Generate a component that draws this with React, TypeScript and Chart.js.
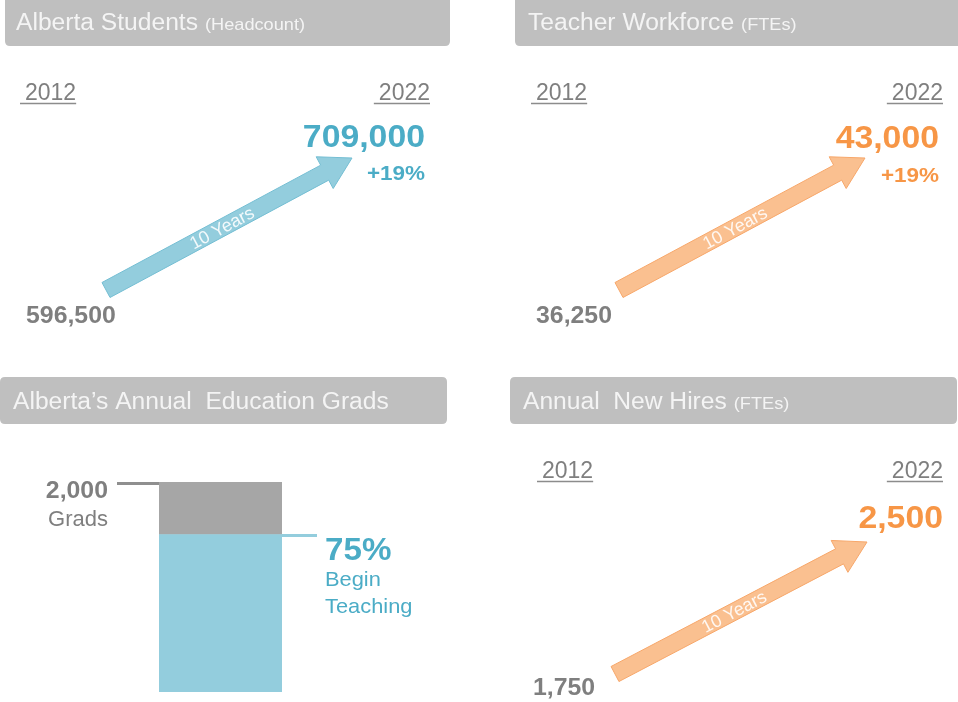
import React, { useEffect, useRef } from "react";
import { Chart, registerables } from "chart.js";

Chart.register(...registerables);

// ---------------- DATA ----------------
const years = [2012, 2022];
const studentValues = [596500, 709000];
const teacherValues = [36250, 43000];
const hireValues = [1750, 2500];
const studentGrowthPct = 19;
const teacherGrowthPct = 19;
const gradsCategories = ["Education Grads"];
const gradsTotal = 2000;
const gradsTeaching = [1500];
const gradsOther = [500];
const beginTeachingPct = 75;
const arrowLabel = "10 Years";
const panelTitles = ["Alberta Students", "Teacher Workforce", "Alberta\u2019s Annual  Education Grads", "Annual  New Hires"];
const panelSubtitles = ["(Headcount)", "(FTEs)", "", "(FTEs)"];
const gradsLabel = "Grads";
const teachingLabelLines = ["Begin", "Teaching"];

// ---------------- STYLE ----------------
const W = 958;
const H = 702;
const FONT = '"Liberation Sans", Arial, Helvetica, sans-serif';
const HEADER_BG = "#bfbfbf";
const HEADER_TEXT = "#f4f4f4";
const GRAY_TEXT = "#7f7f7f";
const TEAL = "#4bacc6";
const TEAL_FILL = "#93cddd";
const TEAL_EDGE = "#74bed3";
const ORANGE = "#f79646";
const ORANGE_FILL = "#fac090";
const ORANGE_EDGE = "#f7a76a";
const BAR_GRAY = "#a6a6a6";

type TextOpt = { size: number; bold?: boolean; color: string; align?: CanvasTextAlign; sx?: number; baseline?: CanvasTextBaseline };

function drawText(ctx: CanvasRenderingContext2D, s: string, x: number, y: number, o: TextOpt) {
  const sx = o.sx ?? 1;
  ctx.save();
  ctx.font = `${o.bold ? "bold " : ""}${o.size}px ${FONT}`;
  ctx.fillStyle = o.color;
  ctx.textAlign = o.align || "left";
  ctx.textBaseline = o.baseline || "alphabetic";
  ctx.translate(x, y);
  ctx.scale(sx, 1);
  ctx.fillText(s, 0, 0);
  const w = ctx.measureText(s).width * sx;
  ctx.restore();
  return w;
}

function roundRectPath(ctx: CanvasRenderingContext2D, x: number, y: number, w: number, h: number, r: number) {
  ctx.beginPath();
  ctx.moveTo(x + r, y);
  ctx.lineTo(x + w - r, y);
  ctx.quadraticCurveTo(x + w, y, x + w, y + r);
  ctx.lineTo(x + w, y + h - r);
  ctx.quadraticCurveTo(x + w, y + h, x + w - r, y + h);
  ctx.lineTo(x + r, y + h);
  ctx.quadraticCurveTo(x, y + h, x, y + h - r);
  ctx.lineTo(x, y + r);
  ctx.quadraticCurveTo(x, y, x + r, y);
  ctx.closePath();
}

type HeaderLayout = { x: number; y: number; w: number; h: number; tx: number; ty: number };

function drawHeader(ctx: CanvasRenderingContext2D, hl: HeaderLayout, title: string, sub: string) {
  ctx.save();
  ctx.fillStyle = HEADER_BG;
  roundRectPath(ctx, hl.x, hl.y, hl.w, hl.h, 5);
  ctx.fill();
  ctx.restore();
  const w = drawText(ctx, title, hl.tx, hl.ty, { size: 23, color: HEADER_TEXT, sx: 1.07 });
  if (sub) drawText(ctx, sub, hl.tx + w + 7, hl.ty, { size: 17, color: HEADER_TEXT, sx: 1.07 });
}

function drawYear(ctx: CanvasRenderingContext2D, s: string, x: number, y: number, align: "left" | "right") {
  const w = drawText(ctx, s, x, y, { size: 23, color: GRAY_TEXT, align });
  const x0 = align === "left" ? x - 5 : x - w - 5;
  const x1 = align === "left" ? x + w : x;
  ctx.save();
  ctx.strokeStyle = "#8c8c8c";
  ctx.lineWidth = 1.5;
  ctx.beginPath();
  ctx.moveTo(x0, y + 3.5);
  ctx.lineTo(x1, y + 3.5);
  ctx.stroke();
  ctx.restore();
}

const fmt = (n: number) => n.toLocaleString("en-US");

type ArrowPanel = {
  values: number[];
  pct: number | null;
  color: string;
  fill: string;
  edge: string;
  title: string;
  sub: string;
  header: HeaderLayout;
  tail: [number, number];
  tip: [number, number];
  year1: [number, number];
  year2: [number, number];
  endVal: [number, number];
  growth: [number, number];
  startVal: [number, number];
};

const arrowPanels: ArrowPanel[] = [
  {
    values: studentValues, pct: studentGrowthPct, color: TEAL, fill: TEAL_FILL, edge: TEAL_EDGE,
    title: panelTitles[0], sub: panelSubtitles[0],
    header: { x: 5, y: -6, w: 445, h: 52, tx: 16, ty: 30 },
    tail: [106, 290], tip: [352, 158],
    year1: [25, 100], year2: [430, 100],
    endVal: [425, 147], growth: [425, 180], startVal: [26, 323],
  },
  {
    values: teacherValues, pct: teacherGrowthPct, color: ORANGE, fill: ORANGE_FILL, edge: ORANGE_EDGE,
    title: panelTitles[1], sub: panelSubtitles[1],
    header: { x: 515, y: -6, w: 452, h: 52, tx: 528, ty: 30 },
    tail: [619, 290], tip: [865, 158],
    year1: [536, 100], year2: [943, 100],
    endVal: [939, 148], growth: [939, 182], startVal: [536, 323],
  },
  {
    values: hireValues, pct: null, color: ORANGE, fill: ORANGE_FILL, edge: ORANGE_EDGE,
    title: panelTitles[3], sub: panelSubtitles[3],
    header: { x: 510, y: 377, w: 447, h: 47, tx: 523, ty: 409 },
    tail: [615, 674], tip: [867, 542],
    year1: [542, 478], year2: [943, 478],
    endVal: [943, 528], growth: [943, 560], startVal: [533, 695],
  },
];

function makeArrowChart(canvas: HTMLCanvasElement, p: ArrowPanel) {
  const plugin = {
    id: "arrowPanel",
    afterDatasetsDraw(chart: any) {
      const ctx: CanvasRenderingContext2D = chart.ctx;
      const meta = chart.getDatasetMeta(0);
      const a = meta.data[0];
      const b = meta.data[1];
      const dx = b.x - a.x;
      const dy = b.y - a.y;
      const len = Math.hypot(dx, dy);
      const ux = dx / len, uy = dy / len;
      const nx = -uy, ny = ux;
      const shaft = 17, head = 36, headLen = 31;
      const bx = b.x - ux * headLen, by = b.y - uy * headLen;
      ctx.save();
      ctx.beginPath();
      ctx.moveTo(a.x + nx * shaft / 2, a.y + ny * shaft / 2);
      ctx.lineTo(bx + nx * shaft / 2, by + ny * shaft / 2);
      ctx.lineTo(bx + nx * head / 2, by + ny * head / 2);
      ctx.lineTo(b.x, b.y);
      ctx.lineTo(bx - nx * head / 2, by - ny * head / 2);
      ctx.lineTo(bx - nx * shaft / 2, by - ny * shaft / 2);
      ctx.lineTo(a.x - nx * shaft / 2, a.y - ny * shaft / 2);
      ctx.closePath();
      ctx.fillStyle = p.fill;
      ctx.fill();
      ctx.strokeStyle = p.edge;
      ctx.lineWidth = 1;
      ctx.stroke();
      // label along the shaft
      const s = (len - headLen) * 0.53;
      const cx = a.x + ux * s, cy = a.y + uy * s;
      ctx.translate(cx, cy);
      ctx.rotate(Math.atan2(dy, dx));
      ctx.font = `18px ${FONT}`;
      ctx.fillStyle = "rgba(255,255,255,0.88)";
      ctx.textAlign = "center";
      ctx.textBaseline = "middle";
      ctx.fillText(arrowLabel, 0, 1);
      ctx.restore();

      drawHeader(ctx, p.header, p.title, p.sub);
      drawYear(ctx, String(years[0]), p.year1[0], p.year1[1], "left");
      drawYear(ctx, String(years[1]), p.year2[0], p.year2[1], "right");
      drawText(ctx, fmt(p.values[1]), p.endVal[0], p.endVal[1], { size: 31, bold: true, color: p.color, align: "right", sx: 1.09 });
      if (p.pct !== null) drawText(ctx, `+${p.pct}%`, p.growth[0], p.growth[1], { size: 21, bold: true, color: p.color, align: "right", sx: 1.07 });
      drawText(ctx, fmt(p.values[0]), p.startVal[0], p.startVal[1], { size: 23, bold: true, color: GRAY_TEXT, sx: 1.08 });
    },
  };
  return new Chart(canvas, {
    type: "scatter",
    data: {
      datasets: [
        {
          data: years.map((yr, i) => ({ x: yr, y: p.values[i] })),
          pointRadius: 0,
          showLine: false,
        },
      ],
    },
    options: {
      responsive: false,
      animation: false,
      events: [],
      layout: { padding: { left: p.tail[0], right: W - p.tip[0], top: p.tip[1], bottom: H - p.tail[1] } },
      plugins: { legend: { display: false }, tooltip: { enabled: false } },
      scales: {
        x: { type: "linear", min: years[0], max: years[1], display: false },
        y: { type: "linear", min: p.values[0], max: p.values[1], display: false },
      },
    },
    plugins: [plugin],
  });
}

function makeBarChart(canvas: HTMLCanvasElement) {
  const plugin = {
    id: "gradsPanel",
    afterDatasetsDraw(chart: any) {
      const ctx: CanvasRenderingContext2D = chart.ctx;
      const ys = chart.scales.y;
      const area = chart.chartArea;
      const yTop = ys.getPixelForValue(gradsTotal);
      const yTeach = ys.getPixelForValue(gradsTeaching[0]);
      ctx.save();
      ctx.lineWidth = 3;
      ctx.strokeStyle = "#8f8f8f";
      ctx.beginPath();
      ctx.moveTo(117, yTop + 1.5);
      ctx.lineTo(area.left, yTop + 1.5);
      ctx.stroke();
      ctx.strokeStyle = TEAL_FILL;
      ctx.beginPath();
      ctx.moveTo(area.right, yTeach + 1);
      ctx.lineTo(area.right + 35, yTeach + 1);
      ctx.stroke();
      ctx.restore();

      drawHeader(ctx, { x: 0, y: 377, w: 447, h: 47, tx: 13, ty: 409 }, panelTitles[2], panelSubtitles[2]);
      drawText(ctx, fmt(gradsTotal), 108, yTop + 16, { size: 23, bold: true, color: GRAY_TEXT, align: "right", sx: 1.08 });
      drawText(ctx, gradsLabel, 108, yTop + 44, { size: 22, color: GRAY_TEXT, align: "right" });
      drawText(ctx, `${beginTeachingPct}%`, 325, yTeach + 25, { size: 31, bold: true, color: TEAL, sx: 1.07 });
      drawText(ctx, teachingLabelLines[0], 325, yTeach + 51, { size: 21, color: TEAL, sx: 1.04 });
      drawText(ctx, teachingLabelLines[1], 325, yTeach + 78, { size: 21, color: TEAL, sx: 1.04 });
    },
  };
  return new Chart(canvas, {
    type: "bar",
    data: {
      labels: gradsCategories,
      datasets: [
        { label: "Begin Teaching", data: gradsTeaching, backgroundColor: TEAL_FILL, barPercentage: 1, categoryPercentage: 1 },
        { label: "Other", data: gradsOther, backgroundColor: BAR_GRAY, barPercentage: 1, categoryPercentage: 1 },
      ],
    },
    options: {
      responsive: false,
      animation: false,
      events: [],
      layout: { padding: { left: 159, right: W - 282, top: 482, bottom: H - 692 } },
      plugins: { legend: { display: false }, tooltip: { enabled: false } },
      scales: {
        x: { stacked: true, display: false },
        y: { stacked: true, min: 0, max: gradsTotal, display: false },
      },
    },
    plugins: [plugin],
  });
}

export default function App() {
  const r0 = useRef<HTMLCanvasElement>(null);
  const r1 = useRef<HTMLCanvasElement>(null);
  const r2 = useRef<HTMLCanvasElement>(null);
  const r3 = useRef<HTMLCanvasElement>(null);

  useEffect(() => {
    const charts: Chart[] = [];
    if (r0.current) charts.push(makeArrowChart(r0.current, arrowPanels[0]) as any);
    if (r1.current) charts.push(makeArrowChart(r1.current, arrowPanels[1]) as any);
    if (r2.current) charts.push(makeBarChart(r2.current) as any);
    if (r3.current) charts.push(makeArrowChart(r3.current, arrowPanels[2]) as any);
    return () => charts.forEach((c) => c.destroy());
  }, []);

  const cs: React.CSSProperties = { position: "absolute", left: 0, top: 0, width: W, height: H };
  return (
    <div style={{ position: "absolute", left: 0, top: 0, width: W, height: H, background: "#ffffff", overflow: "hidden" }}>
      <canvas ref={r0} width={W} height={H} style={cs} />
      <canvas ref={r1} width={W} height={H} style={cs} />
      <canvas ref={r2} width={W} height={H} style={cs} />
      <canvas ref={r3} width={W} height={H} style={cs} />
    </div>
  );
}
